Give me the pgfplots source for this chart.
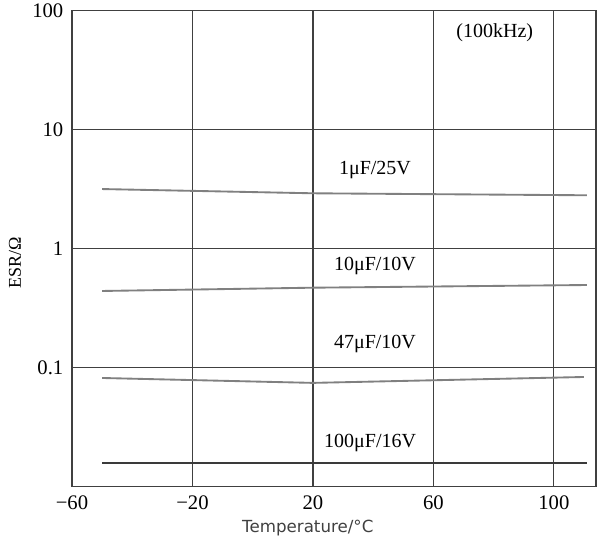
\documentclass[border=0pt]{standalone}
\usepackage{fontspec}
\setmainfont{Liberation Serif}
\newfontfamily\dejavu{DejaVu Sans}
\usepackage{pgfplots}
\pgfplotsset{compat=1.18}
\definecolor{gridc}{HTML}{404040}
\definecolor{linec}{HTML}{808080}
\definecolor{darkc}{HTML}{3A3A3A}
\begin{document}
\begin{tikzpicture}
\useasboundingbox (-54pt,-43.7pt) rectangle (396pt,365pt);
\begin{axis}[
  at={(0,0)}, anchor=south west,
  scale only axis, width=393pt, height=357pt,
  ymode=log,
  xmin=-60, xmax=114, ymin=0.01, ymax=100,
  xtick={-60,-20,20,60,100},
  xticklabels={−60,−20,20,60,100},
  ytick={0.1,1,10,100},
  yticklabels={0.1,1,10,100},
  minor tick num=0, yminorticks=false,
  major tick length=0pt,
  grid=major,
  major grid style={gridc, line width=0.9pt},
  axis line style={gridc, line width=0.9pt},
  tick label style={font=\fontsize{15.5}{17}\selectfont, text=black},
  /pgf/number format/assume math mode=true,
  xticklabel style={yshift=-3pt},
  yticklabel style={xshift=-3pt},
  xlabel={Temperature/°C},
  xlabel style={font=\dejavu\fontsize{12.5}{14}\selectfont, text=gridc, at={(axis description cs:0.45,-0.086)}, anchor=center},
  ylabel={ESR/Ω},
  ylabel style={font=\fontsize{13.5}{15}\selectfont, at={(axis description cs:-0.109,0.47)}, anchor=center},
]
\addplot[linec, line width=1.4pt] coordinates {(-50,3.17) (20,2.92) (111,2.81)};
\addplot[linec, line width=1.4pt] coordinates {(-50,0.441) (20,0.470) (111,0.495)};
\addplot[linec, line width=1.4pt] coordinates {(-50,0.0819) (20,0.0745) (110,0.0835)};
\addplot[darkc, line width=1.4pt] coordinates {(-50,0.0157) (20,0.0157) (111,0.0157)};
\node[font=\fontsize{15}{17}\selectfont] at (axis cs:40.6,4.58) {1μF/25V};
\node[font=\fontsize{15}{17}\selectfont] at (axis cs:40.6,0.716) {10μF/10V};
\node[font=\fontsize{15}{17}\selectfont] at (axis cs:40.6,0.158) {47μF/10V};
\node[font=\fontsize{15}{17}\selectfont] at (axis cs:39,0.0233) {100μF/16V};
\node[font=\fontsize{15}{17}\selectfont] at (axis cs:80.4,65) {(100kHz)};
\end{axis}
\end{tikzpicture}
\end{document}
